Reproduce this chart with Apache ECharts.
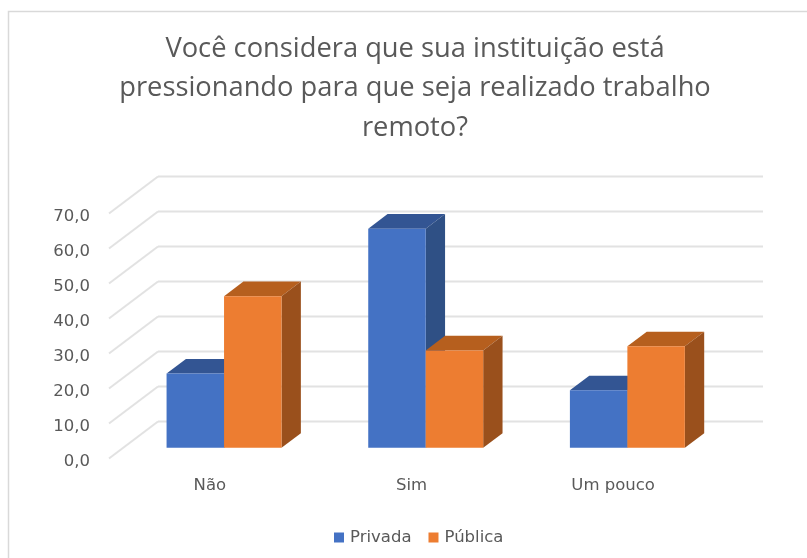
<!DOCTYPE html>
<html><head><meta charset="utf-8">
<style>html,body{margin:0;padding:0;background:#fff}#c{width:807px;height:558px}</style>
<script src="https://cdn.jsdelivr.net/npm/echarts@6/dist/echarts.min.js"></script>
</head><body><div id="c"></div>
<script>
const categories = ['Não', 'Sim', 'Um pouco'];
const privada = [21.2, 62.6, 16.4];
const publica = [43.3, 27.8, 29.0];
const ticks = [0, 10, 20, 30, 40, 50, 60, 70];
const titleText = 'Você considera que sua instituição está\npressionando para que seja realizado trabalho\nremoto?';
const FONT = '"Open Sans","Noto Sans",sans-serif';
const LABEL_FONT = '"DejaVu Sans",sans-serif';
const chart = echarts.init(document.getElementById('c'), null, {renderer: 'canvas'});

const DEPTH = {dx: 49, dy: -37};          // full floor depth
const BAR_NEAR = 0.29, BAR_FAR = 0.685;   // bar position inside the depth
const BAR_RATIO = 0.285;

function wall(params, api) {
  const v = api.value(0);
  const a = api.coord([0, v]);
  const x0 = params.coordSys.x, x1 = x0 + params.coordSys.width;
  const st = {stroke: '#e2e2e2', lineWidth: 2, fill: null};
  return {type: 'group', silent: true, children: [
    {type: 'line', shape: {x1: x0, y1: a[1], x2: x0 + DEPTH.dx, y2: a[1] + DEPTH.dy}, style: st},
    {type: 'line', shape: {x1: x0 + DEPTH.dx, y1: a[1] + DEPTH.dy, x2: x1 + DEPTH.dx, y2: a[1] + DEPTH.dy}, style: st}
  ]};
}
function bar3d(offsetSign, top, side) {
  return function (params, api) {
    const c = api.value(0), v = api.value(1);
    const t = api.coord([c, v]), b = api.coord([c, 0]);
    const w = api.size([1, 0])[0] * BAR_RATIO;
    const ox = DEPTH.dx * BAR_NEAR, oy = DEPTH.dy * BAR_NEAR;
    const dx = DEPTH.dx * (BAR_FAR - BAR_NEAR), dy = DEPTH.dy * (BAR_FAR - BAR_NEAR);
    const l = t[0] + ox + (offsetSign < 0 ? -w : 0), r = l + w;
    const yt = t[1] + oy, yb = b[1] + oy;
    return {type: 'group', children: [
      {type: 'polygon', shape: {points: [[l, yt], [r, yt], [r + dx, yt + dy], [l + dx, yt + dy]]}, style: {fill: top}},
      {type: 'polygon', shape: {points: [[r, yt], [r + dx, yt + dy], [r + dx, yb + dy], [r, yb]]}, style: {fill: side}},
      {type: 'rect', shape: {x: l, y: yt, width: w, height: yb - yt}, style: {fill: api.visual('color')}}
    ]};
  };
}
chart.setOption({
  animation: false,
  backgroundColor: '#fff',
  graphic: [{type: 'rect', shape: {x: 8.5, y: 11.5, width: 830, height: 600},
    style: {fill: null, stroke: '#d9d9d9', lineWidth: 1.5}, silent: true, z: -1}],
  title: {text: titleText, left: 410, top: 24, textAlign: 'center',
    textStyle: {fontFamily: FONT, fontWeight: 'normal', fontSize: 27.3, lineHeight: 39.5, color: '#595959'}},
  legend: {data: ['Privada', 'Pública'], left: 329, top: 524, itemWidth: 10, itemHeight: 10, itemGap: 17,
    icon: 'rect', textStyle: {fontFamily: LABEL_FONT, fontSize: 16.5, color: '#595959', padding: [0, 0, 0, 1]}},
  grid: {left: 109, width: 605, top: 213.5, height: 245},
  xAxis: {type: 'category', data: categories, axisLine: {show: false}, axisTick: {show: false},
    axisLabel: {fontFamily: LABEL_FONT, fontSize: 16.5, color: '#595959', margin: 18.5}},
  yAxis: {type: 'value', min: 0, max: 70, interval: 10, splitLine: {show: false}, axisLine: {show: false}, axisTick: {show: false},
    axisLabel: {fontFamily: LABEL_FONT, fontSize: 16.5, color: '#595959', margin: 19, verticalAlign: 'top', lineHeight: 6,
      formatter: v => v.toFixed(1).replace('.', ',')}},
  series: [
    {type: 'custom', name: 'grid', data: ticks.map(t => [t]), renderItem: wall, encode: {y: 0}, silent: true, z: 1, tooltip: {show: false}},
    {type: 'custom', name: 'Privada', data: privada.map((v, i) => [i, v]), encode: {x: 0, y: 1},
      itemStyle: {color: '#4472C4'}, renderItem: bar3d(-1, '#335593', '#2F5085'), z: 2},
    {type: 'custom', name: 'Pública', data: publica.map((v, i) => [i, v]), encode: {x: 0, y: 1},
      itemStyle: {color: '#ED7D31'}, renderItem: bar3d(1, '#B65F1E', '#9A501C'), z: 3}
  ]
});
</script></body></html>
